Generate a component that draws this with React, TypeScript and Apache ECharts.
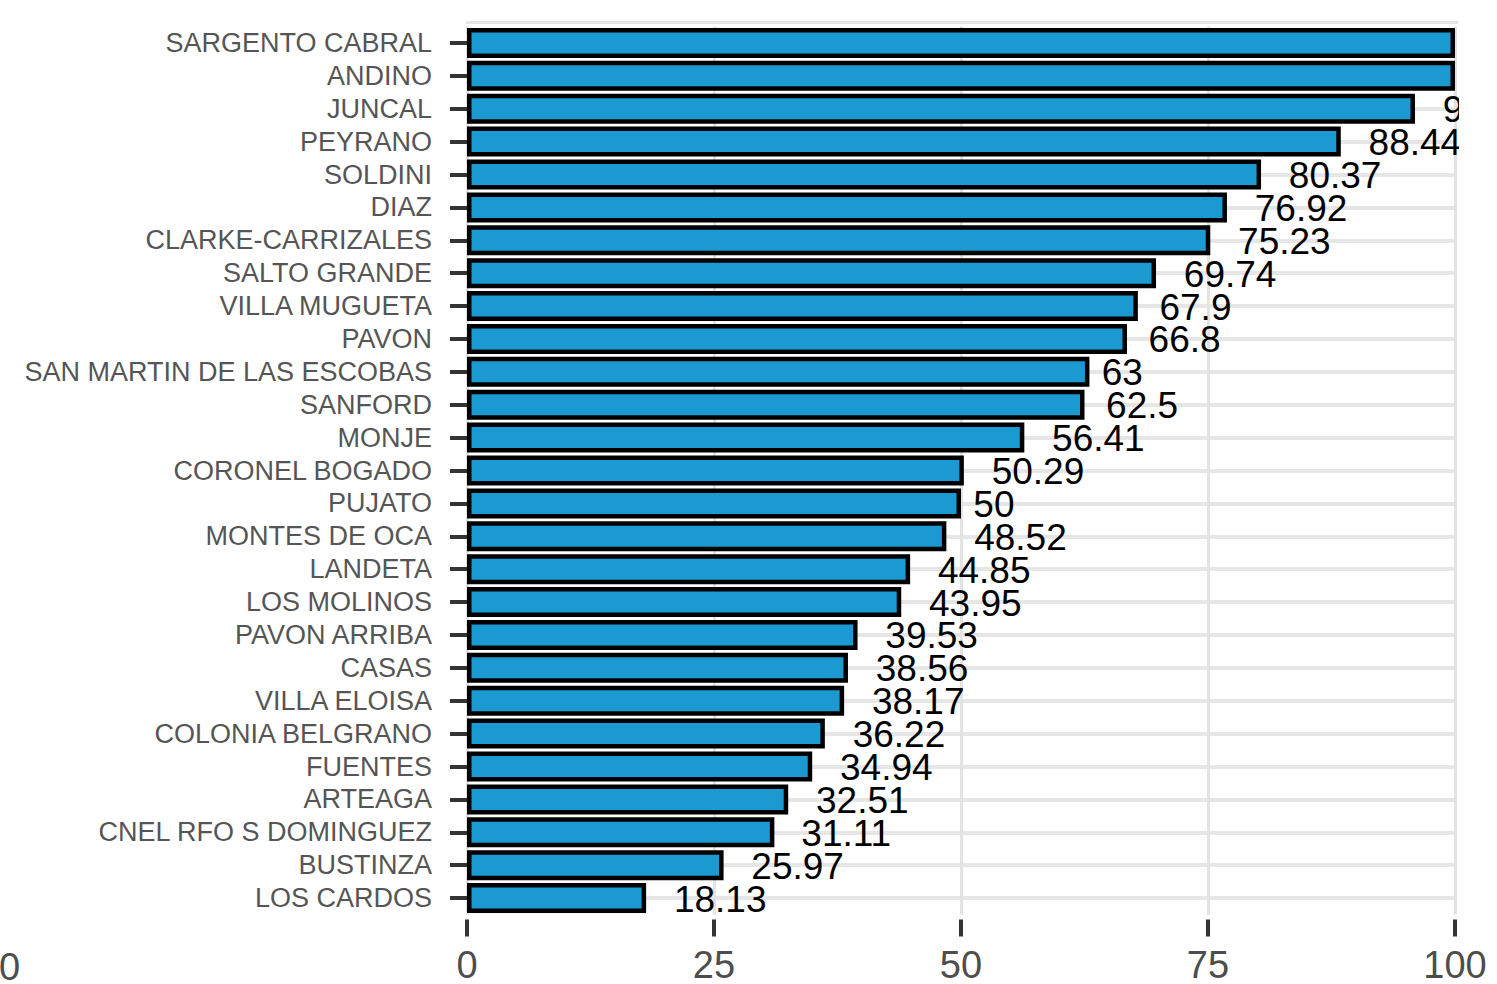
import React, { useEffect, useRef } from "react";
import * as echarts from "echarts";

const categories = [
  "SARGENTO CABRAL",
  "ANDINO",
  "JUNCAL",
  "PEYRANO",
  "SOLDINI",
  "DIAZ",
  "CLARKE-CARRIZALES",
  "SALTO GRANDE",
  "VILLA MUGUETA",
  "PAVON",
  "SAN MARTIN DE LAS ESCOBAS",
  "SANFORD",
  "MONJE",
  "CORONEL BOGADO",
  "PUJATO",
  "MONTES DE OCA",
  "LANDETA",
  "LOS MOLINOS",
  "PAVON ARRIBA",
  "CASAS",
  "VILLA ELOISA",
  "COLONIA BELGRANO",
  "FUENTES",
  "ARTEAGA",
  "CNEL RFO S DOMINGUEZ",
  "BUSTINZA",
  "LOS CARDOS",
];

const values = [
  100, 100, 95.95, 88.44, 80.37, 76.92, 75.23, 69.74, 67.9, 66.8, 63, 62.5,
  56.41, 50.29, 50, 48.52, 44.85, 43.95, 39.53, 38.56, 38.17, 36.22, 34.94,
  32.51, 31.11, 25.97, 18.13,
];

const xMin = 0;
const xMax = 100;
const xInterval = 25;

const FONT = '"Liberation Sans", Arial, sans-serif';
const LABEL_SIZE = 37;

function textWidth(s: string, size: number): number {
  const ctx = document.createElement("canvas").getContext("2d");
  if (!ctx) return s.length * size * 0.55;
  ctx.font = `${size}px "Liberation Sans"`;
  return ctx.measureText(s).width;
}

export default function App() {
  const ref = useRef<HTMLDivElement>(null);

  useEffect(() => {
    document.body.style.margin = "0";
    const chart = echarts.init(ref.current!, null, { renderer: "svg" });

    const data = values.map((v) => {
      const w = textWidth(String(v), LABEL_SIZE);
      // labels that fall entirely beyond the panel edge are clipped away in the reference
      const visible = v < xMax;
      return { value: v, label: { show: visible, offset: [0.3 * w, 1] } };
    });

    chart.setOption({
      animation: false,
      backgroundColor: "#ffffff",
      grid: { left: 467, right: 42, top: 26.5, bottom: 69.5, containLabel: false },
      xAxis: {
        type: "value",
        min: xMin,
        max: xMax,
        interval: xInterval,
        offset: 5,
        axisLine: { show: false },
        axisTick: { show: true, length: 17, lineStyle: { color: "#333333", width: 4 } },
        axisLabel: {
          fontSize: 38,
          lineHeight: 32,
          color: "#4d4d4d",
          margin: 29,
          fontFamily: FONT,
        },
        splitLine: { show: true, lineStyle: { color: "#e3e3e3", width: 3 } },
      },
      yAxis: {
        type: "category",
        data: categories,
        inverse: true,
        axisLine: { show: false },
        axisTick: {
          show: true,
          alignWithLabel: true,
          interval: 0,
          length: 17,
          lineStyle: { color: "#333333", width: 4 },
        },
        axisLabel: { interval: 0, fontSize: 27, color: "#555555", margin: 35, fontFamily: FONT },
        splitLine: {
          show: true,
          alignWithLabel: true,
          interval: 0,
          lineStyle: { color: "#e6e6e6", width: 4 },
        },
      },
      series: [
        {
          type: "bar",
          data,
          barWidth: 30,
          itemStyle: { color: "#1B9AD2", borderColor: "#000000", borderWidth: 4.5 },
          label: {
            show: true,
            position: "right",
            distance: 0,
            fontSize: LABEL_SIZE,
            lineHeight: 28,
            color: "#000000",
            fontFamily: FONT,
            formatter: (p: any) => String(p.value),
          },
        },
      ],
      graphic: [
        {
          type: "rect",
          z: 100,
          shape: { x: 1459, y: 0, width: 40, height: 916 },
          style: { fill: "#ffffff" },
        },
        {
          type: "rect",
          z: 50,
          shape: { x: 466, y: 21, width: 992, height: 3 },
          style: { fill: "#e5e5e5" },
        },
        {
          type: "text",
          z: 100,
          x: -1,
          y: 967,
          style: {
            text: "0",
            fontSize: 38,
            lineHeight: 32,
            fontFamily: FONT,
            fill: "#4d4d4d",
            verticalAlign: "middle",
            align: "left",
          },
        },
      ],
    });

    return () => chart.dispose();
  }, []);

  return <div ref={ref} style={{ width: 1497, height: 984 }} />;
}
